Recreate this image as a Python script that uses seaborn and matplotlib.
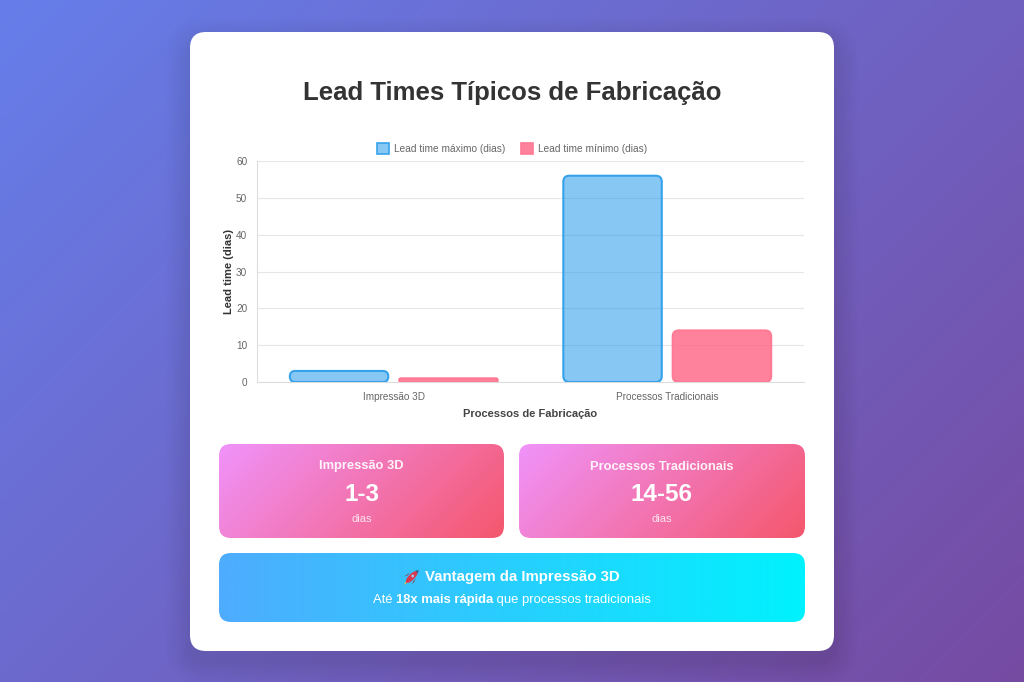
import numpy as np
import pandas as pd
import matplotlib
matplotlib.use("Agg")
import matplotlib.pyplot as plt
import seaborn as sns
from matplotlib.patches import FancyBboxPatch, Rectangle, Ellipse, Polygon, Circle
from matplotlib.offsetbox import TextArea, HPacker, AnnotationBbox
from matplotlib.colors import to_rgb

# ---------------- data ----------------
categories = ["Impressão 3D", "Processos Tradicionais"]
series_names = ["Lead time máximo (dias)", "Lead time mínimo (dias)"]
lead_max = [3, 56]
lead_min = [1, 14]
y_ticks = [0, 10, 20, 30, 40, 50, 60]
card_titles = ["Impressão 3D", "Processos Tradicionais"]
card_values = ["1-3", "14-56"]
card_units = ["dias", "dias"]

title_text = "Lead Times Típicos de Fabricação"
x_label = "Processos de Fabricação"
y_label = "Lead time (dias)"
banner_title = "Vantagem da Impressão 3D"   # preceded by a rocket (🚀) drawn as a shape
banner_parts = ["Até ", "18x mais rápida", " que processos tradicionais"]

# ---------------- style ----------------
sns.set_theme(style="white")
plt.rcParams["font.family"] = ["Liberation Sans", "DejaVu Sans", "Noto Sans"]

W, H = 1024, 682
fig = plt.figure(figsize=(W / 100, H / 100), dpi=100)

bg = fig.add_axes([0, 0, 1, 1], zorder=0)
bg.set_xlim(0, W)
bg.set_ylim(H, 0)
bg.axis("off")


def grad_img(c1, c2, w, h, mode="diag", n=256):
    ys, xs = np.mgrid[0:n, 0:n]
    xs = xs / (n - 1) * w
    ys = ys / (n - 1) * h
    if mode == "diag":
        t = (xs + ys) / (w + h)
    else:
        t = xs / w
    a = np.array(to_rgb(c1))
    b = np.array(to_rgb(c2))
    return a[None, None, :] * (1 - t[..., None]) + b[None, None, :] * t[..., None]


bg.imshow(grad_img("#667eea", "#764ba2", W, H), extent=(0, W, H, 0),
          aspect="auto", zorder=0, interpolation="bilinear")


def rbox(x0, y0, w, h, r, **kw):
    p = FancyBboxPatch((x0, y0), w, h, boxstyle=f"round,pad=0,rounding_size={r}", **kw)
    bg.add_patch(p)
    return p


def shadow(x0, y0, w, h, r, dy=8, spread=14, alpha=0.012, steps=10):
    for i in range(steps):
        s = spread * (i + 1) / steps
        rbox(x0 - s, y0 - s + dy, w + 2 * s, h + 2 * s, r + s,
             facecolor="black", edgecolor="none", alpha=alpha, zorder=1)


# white card
cx0, cy0, cw, ch = 190, 32, 644, 619
shadow(cx0, cy0, cw, ch, 16, dy=10, spread=24, alpha=0.007, steps=10)
rbox(cx0, cy0, cw, ch, 16, facecolor="white", edgecolor="none", zorder=2)

bg.text(512, 93, title_text, ha="center", va="center", fontsize=18.5,
        fontweight="bold", color="#333333", zorder=5)

# stat cards
card_boxes = [(219, 444, 285, 94), (519, 444, 286, 94)]
for (x0, y0, w, h), t, v, u in zip(card_boxes, card_titles, card_values, card_units):
    shadow(x0, y0, w, h, 12, dy=5, spread=9, alpha=0.010, steps=8)
    clip = rbox(x0, y0, w, h, 12, facecolor="none", edgecolor="none", zorder=3)
    im = bg.imshow(grad_img("#f093fb", "#f5576c", w, h), extent=(x0, x0 + w, y0 + h, y0),
                   aspect="auto", zorder=3, interpolation="bilinear")
    im.set_clip_path(clip)
    xc = x0 + w / 2
    bg.text(xc, 466.5, t, ha="center", va="center", fontsize=9.3, fontweight="bold",
            color="white", alpha=0.92, zorder=5)
    bg.text(xc, 494.5, v, ha="center", va="center", fontsize=17.5, fontweight="bold",
            color="white", zorder=5)
    bg.text(xc, 518.5, u, ha="center", va="center", fontsize=8, color="white",
            alpha=0.8, zorder=5)

# banner
bx0, by0, bw, bh = 219, 553, 586, 69
shadow(bx0, by0, bw, bh, 12, dy=5, spread=9, alpha=0.010, steps=8)
clipb = rbox(bx0, by0, bw, bh, 12, facecolor="none", edgecolor="none", zorder=3)
imb = bg.imshow(grad_img("#4facfe", "#00f2fe", bw, bh, mode="horiz"),
                extent=(bx0, bx0 + bw, by0 + bh, by0), aspect="auto", zorder=3,
                interpolation="bilinear")
imb.set_clip_path(clipb)

rocket_w, rocket_gap = 14, 6
bt = bg.text(512 + (rocket_w + rocket_gap) / 2, 577, banner_title, ha="center", va="center",
             fontsize=10.8, fontweight="bold", color="white", zorder=5)
fig.canvas.draw()
ext = bt.get_window_extent(renderer=fig.canvas.get_renderer())
tx0 = bg.transData.inverted().transform((ext.x0, ext.y0))[0]
# rocket emoji drawn as a small shape (no installed font has 🚀)
rcx, rcy = tx0 - rocket_gap - rocket_w / 2, 577.0
bg.add_patch(Polygon([[rcx - 4.5, rcy + 2.5], [rcx - 8.0, rcy + 8.0], [rcx - 2.5, rcy + 4.5]],
                     closed=True, facecolor="#f7b733", edgecolor="none", zorder=6))
bg.add_patch(Polygon([[rcx - 4.5, rcy - 1.5], [rcx - 7.5, rcy - 0.5], [rcx - 1.5, rcy - 4.5]],
                     closed=True, facecolor="#a8233a", edgecolor="none", zorder=6))
bg.add_patch(Polygon([[rcx + 1.5, rcy + 4.5], [rcx + 0.5, rcy + 7.5], [rcx + 4.5, rcy + 1.5]],
                     closed=True, facecolor="#a8233a", edgecolor="none", zorder=6))
bg.add_patch(Ellipse((rcx, rcy), 15.5, 6.0, angle=-45, facecolor="#d8394f",
                     edgecolor="none", zorder=7))
bg.add_patch(Polygon([[rcx + 3.4, rcy - 6.2], [rcx + 7.0, rcy - 7.0], [rcx + 6.2, rcy - 3.4]],
                     closed=True, facecolor="#3f5a8a", edgecolor="none", zorder=8))
bg.add_patch(Circle((rcx + 1.0, rcy - 1.0), 1.4, facecolor="#9fc7e8", edgecolor="none",
                    zorder=8))

parts = [TextArea(banner_parts[0], textprops=dict(fontsize=9.4, color="white")),
         TextArea(banner_parts[1], textprops=dict(fontsize=9.4, color="white", fontweight="bold")),
         TextArea(banner_parts[2], textprops=dict(fontsize=9.4, color="white"))]
pack = HPacker(children=parts, align="baseline", pad=0, sep=0)
ab = AnnotationBbox(pack, (512, 600), xycoords="data", frameon=False,
                    box_alignment=(0.5, 0.5), zorder=5)
bg.add_artist(ab)

# ---------------- bar chart ----------------
L, R, T, B = 257, 804, 161, 382
ax = fig.add_axes([L / W, 1 - B / H, (R - L) / W, (B - T) / H], zorder=4)
ax.set_facecolor("none")

df = pd.DataFrame({
    "categoria": categories * 2,
    "serie": [series_names[0]] * 2 + [series_names[1]] * 2,
    "valor": lead_max + lead_min,
})
fills = {series_names[0]: (54 / 255, 162 / 255, 235 / 255, 0.6),
         series_names[1]: (255 / 255, 99 / 255, 132 / 255, 0.8)}
edges = {series_names[0]: "#36a2eb", series_names[1]: "#ff7a94"}

sns.barplot(data=df, x="categoria", y="valor", hue="serie", order=categories,
            hue_order=series_names, palette=fills, width=0.8, gap=0.1,
            legend=False, ax=ax, saturation=1)

ax.set_ylim(0, 60)
ax.set_xlim(-0.5, 1.5)
ax.set_yticks(y_ticks)

# round the bar corners (Chart.js borderRadius)
x_per_px = 2.0 / (R - L)
y_per_px = 60.0 / (B - T)
aspect = y_per_px / x_per_px
rects = [p for p in ax.patches if isinstance(p, Rectangle)]
for i, p in enumerate(rects):
    x, y, w, h = p.get_x(), p.get_y(), p.get_width(), p.get_height()
    p.remove()
    key = series_names[0] if i < len(categories) else series_names[1]
    r = min(6 * x_per_px, h / (2 * aspect) * 0.98)
    fb = FancyBboxPatch((x, y), w, h, boxstyle=f"round,pad=0,rounding_size={r}",
                        mutation_aspect=aspect, facecolor=fills[key],
                        edgecolor=edges[key], linewidth=1.5, zorder=3)
    ax.add_patch(fb)

ax.grid(axis="y", color="#e6e6e6", linewidth=0.8)
ax.grid(axis="x", visible=False)
ax.set_axisbelow(True)
for s in ["top", "right"]:
    ax.spines[s].set_visible(False)
ax.spines["left"].set_color("#dddddd")
ax.spines["bottom"].set_color("#dddddd")
ax.spines["left"].set_linewidth(0.8)
ax.spines["bottom"].set_linewidth(0.8)
ax.tick_params(axis="y", length=4, color="#e6e6e6", labelsize=7.2, labelcolor="#666666", pad=3)
ax.tick_params(axis="x", length=0, labelsize=7.2, labelcolor="#666666", pad=7)
ax.set_xlabel(x_label, fontsize=8, fontweight="bold", color="#444444", labelpad=5)
ax.set_ylabel(y_label, fontsize=8, fontweight="bold", color="#333333")
ax.yaxis.set_label_coords(-0.042, 0.5)

handles = [Rectangle((0, 0), 1, 1, facecolor=fills[s], edgecolor=edges[s], linewidth=1.2)
           for s in series_names]
fig.legend(handles, series_names, loc="center", bbox_to_anchor=(512 / W, 1 - 148.5 / H),
           ncol=2, frameon=False, fontsize=7.3, labelcolor="#666666",
           handlelength=1.2, handleheight=1.2, handletextpad=0.5, columnspacing=1.5)

fig.savefig("out.png", dpi=100)
